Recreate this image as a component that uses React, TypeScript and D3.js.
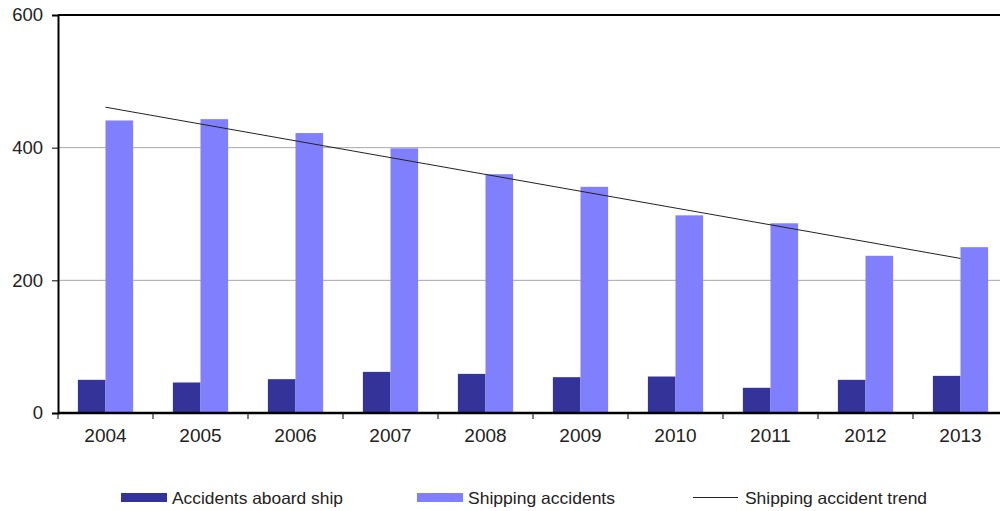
import React, { useEffect, useRef } from 'react';
import * as d3 from 'd3';

const years = ['2004', '2005', '2006', '2007', '2008', '2009', '2010', '2011', '2012', '2013'];
const aboardShip = [50, 46, 51, 62, 59, 54, 55, 38, 50, 56];
const shippingAccidents = [441, 443, 422, 399, 360, 341, 298, 286, 237, 250];
// trend line end points (first and last year)
const trendYears = ['2004', '2013'];
const trendValues = [461, 233];
const yTicks = [0, 200, 400, 600];

const seriesKeys = ['aboard', 'shipping'];
const seriesLabels = ['Accidents aboard ship', 'Shipping accidents', 'Shipping accident trend'];
const seriesColors = ['#333399', '#8080ff'];

const width = 1000;
const height = 511;
const margin = { top: 15, left: 58, bottom: 98 };
const plotRight = 1008;

const App: React.FC = () => {
  const svgRef = useRef<SVGSVGElement>(null);

  useEffect(() => {
    if (!svgRef.current) return;
    const svg = d3.select(svgRef.current);
    svg.selectAll('*').remove();

    const font = '"Liberation Sans", Arial, sans-serif';
    const bottom = height - margin.bottom;

    const x = d3.scaleBand<string>().domain(years).range([margin.left, plotRight]).padding(0);
    const xInner = d3.scaleBand<string>().domain(seriesKeys).range([0, x.bandwidth()]).paddingInner(0).paddingOuter(0.72);
    const y = d3.scaleLinear().domain([0, 600]).range([bottom, margin.top]);

    // gridlines
    svg.append('g')
      .selectAll('line')
      .data(yTicks.filter(t => t > 0 && t < 600))
      .enter()
      .append('line')
      .attr('x1', margin.left)
      .attr('x2', plotRight)
      .attr('y1', d => y(d))
      .attr('y2', d => y(d))
      .attr('stroke', '#a6a6a6')
      .attr('stroke-width', 1);

    // bars
    const seriesData = [aboardShip, shippingAccidents];
    seriesKeys.forEach((key, si) => {
      svg.append('g')
        .selectAll('rect')
        .data(years)
        .enter()
        .append('rect')
        .attr('x', d => (x(d) as number) + (xInner(key) as number))
        .attr('width', xInner.bandwidth())
        .attr('y', (d, i) => y(seriesData[si][i]))
        .attr('height', (d, i) => bottom - y(seriesData[si][i]))
        .attr('fill', seriesColors[si]);
    });

    // trend line
    const line = d3.line<number>()
      .x((d, i) => (x(trendYears[i]) as number) + x.bandwidth() / 2)
      .y(d => y(d));
    svg.append('path')
      .attr('d', line(trendValues))
      .attr('fill', 'none')
      .attr('stroke', '#222')
      .attr('stroke-width', 1);

    // frame: top border
    svg.append('line')
      .attr('x1', margin.left).attr('x2', plotRight)
      .attr('y1', margin.top).attr('y2', margin.top)
      .attr('stroke', '#000').attr('stroke-width', 2);

    // y axis
    const yAxis = svg.append('g')
      .attr('transform', `translate(${margin.left},0)`)
      .call(d3.axisLeft(y).tickValues(yTicks).tickSize(6).tickPadding(9));
    yAxis.select('.domain').attr('stroke', '#000').attr('stroke-width', 2);
    yAxis.selectAll('.tick line').attr('stroke', '#000');
    yAxis.selectAll('.tick text')
      .attr('font-family', font)
      .attr('font-size', 18.5)
      .attr('fill', '#222');

    // x axis
    const xTicks = svg.append('g')
      .attr('transform', `translate(0,${bottom})`);
    xTicks.append('line')
      .attr('x1', margin.left).attr('x2', plotRight)
      .attr('stroke', '#000').attr('stroke-width', 2.5);
    xTicks.selectAll('line.tk')
      .data(years)
      .enter()
      .append('line')
      .attr('class', 'tk')
      .attr('x1', d => x(d) as number)
      .attr('x2', d => x(d) as number)
      .attr('y1', 0)
      .attr('y2', 6)
      .attr('stroke', '#000');
    xTicks.selectAll('text')
      .data(years)
      .enter()
      .append('text')
      .attr('x', d => (x(d) as number) + x.bandwidth() / 2)
      .attr('y', 29)
      .attr('text-anchor', 'middle')
      .attr('font-family', font)
      .attr('font-size', 19)
      .attr('fill', '#222')
      .text(d => d);

    // legend
    const legendY = 497.5;
    const legendItems = [
      { x: 121, textX: 172, len: 171, type: 'rect', color: seriesColors[0] },
      { x: 417, textX: 468, len: 147, type: 'rect', color: seriesColors[1] },
      { x: 693, textX: 745, len: 182, type: 'line', color: '#222' },
    ];
    const legend = svg.append('g');
    legendItems.forEach((item, i) => {
      if (item.type === 'rect') {
        legend.append('rect')
          .attr('x', item.x).attr('y', legendY - 4.5)
          .attr('width', 46).attr('height', 9)
          .attr('fill', item.color);
      } else {
        legend.append('line')
          .attr('x1', item.x).attr('x2', item.x + 45)
          .attr('y1', legendY).attr('y2', legendY)
          .attr('stroke', item.color).attr('stroke-width', 1);
      }
      legend.append('text')
        .attr('x', item.textX)
        .attr('y', legendY + 6.5)
        .attr('font-family', font)
        .attr('font-size', 16.5)
        .attr('fill', '#222')
        .attr('textLength', item.len)
        .attr('lengthAdjust', 'spacingAndGlyphs')
        .text(seriesLabels[i]);
    });
  }, []);

  return (
    <svg
      ref={svgRef}
      width={width}
      height={height}
      style={{ position: 'absolute', left: 0, top: 0, background: '#fff' }}
    />
  );
};

export default App;
